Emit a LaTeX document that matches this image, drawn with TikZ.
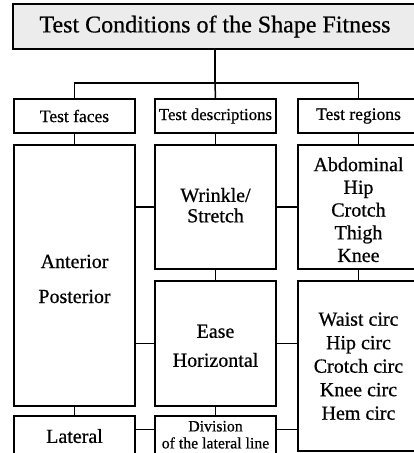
\documentclass[tikz,border=0pt]{standalone}
\usepackage{fontspec}
\setmainfont[FakeBold=0.6]{Liberation Serif}
\newcommand\mytxt[2]{\raisebox{#1}[\height][\depth]{\begin{tabular}{@{}c@{}}#2\end{tabular}}}
\begin{document}
\begin{tikzpicture}[x=1pt,y=-1pt,
  box/.style={draw=black,line width=1.5pt,fill=white,minimum width=121pt,inner sep=0pt,align=center},
  conn/.style={draw=black,line width=1.5pt},
  hdr/.style={box,minimum height=34pt,font=\fontsize{17.5}{20}\selectfont},
  body/.style={font=\fontsize{20}{22.7}\selectfont}]
\useasboundingbox (0,0) rectangle (414,453);
\clip (0,0) rectangle (414,453);
\fill[white] (0,0) rectangle (414,453);
% title
\node[box,fill=gray!15,minimum width=404pt,minimum height=45pt,font=\fontsize{24}{26}\selectfont] (title) at (215,26.5) {Test Conditions of the Shape Fitness};
% headers
\node[hdr] (tf) at (74.5,116) {Test faces};
\node[hdr,font=\fontsize{16.8}{20}\selectfont] (td) at (215.5,116) {Test descriptions};
\node[hdr] (tr) at (358.5,116) {Test regions};
% second row
\node[box,minimum height=261pt,font=\fontsize{20}{35}\selectfont] (ap) at (74.5,275.5) {\mytxt{-3pt}{Anterior\\Posterior}};
\node[box,minimum height=124pt,font=\fontsize{20}{20.5}\selectfont] (ws) at (215.5,207) {\mytxt{-1pt}{Wrinkle/\\Stretch}};
\node[box,body,minimum height=124pt] (ab) at (358.5,207) {\mytxt{-5pt}{Abdominal\\Hip\\Crotch\\Thigh\\Knee}};
\node[box,minimum height=125pt,font=\fontsize{20}{29}\selectfont] (eh) at (215.5,343.5) {\mytxt{-3pt}{Ease\\Horizontal}};
\node[box,minimum height=170pt,font=\fontsize{20}{23.5}\selectfont] (wc) at (358.5,366) {\mytxt{-2pt}{Waist circ\\Hip circ\\Crotch circ\\Knee circ\\Hem circ}};
\node[box,minimum height=45pt,font=\fontsize{20}{22}\selectfont] (lat) at (74.5,438.5) {\mytxt{0pt}{Lateral}};
\node[box,minimum height=45pt,font=\fontsize{15.8}{17}\selectfont] (div) at (215.5,438.5) {\mytxt{2pt}{Division\\of the lateral line}};
% connectors
\coordinate (bus) at (215,83);
\draw[conn] (title.south) -- (bus);
\draw[conn] (tf.north) |- (bus) -| (tr.north);
\draw[conn] (bus) -- (td.north);
\draw[conn] (tf.south) -- (ap.north);
\draw[conn] (td.south) -- (ws.north);
\draw[conn] (tr.south) -- (ab.north);
\draw[conn] (ws.west) -- (ws.west -| ap.east);
\draw[conn] (ws.east) -- (ab.west);
\draw[conn] (ws.south) -- (eh.north);
\draw[conn] (ab.south) -- (wc.north);
\draw[conn] (eh.west) -- (eh.west -| ap.east);
\draw[conn] (eh.east) -- (eh.east -| wc.west);
\draw[conn] (ap.south) -- (lat.north);
\draw[conn] (eh.south) -- (div.north);
\draw[conn] ([yshift=-14pt]lat.north east) -- ([yshift=-14pt]div.north west);
\draw[conn] ([yshift=-14pt]div.north east) -- ([yshift=-14pt]div.north east -| wc.west);
\end{tikzpicture}
\end{document}
